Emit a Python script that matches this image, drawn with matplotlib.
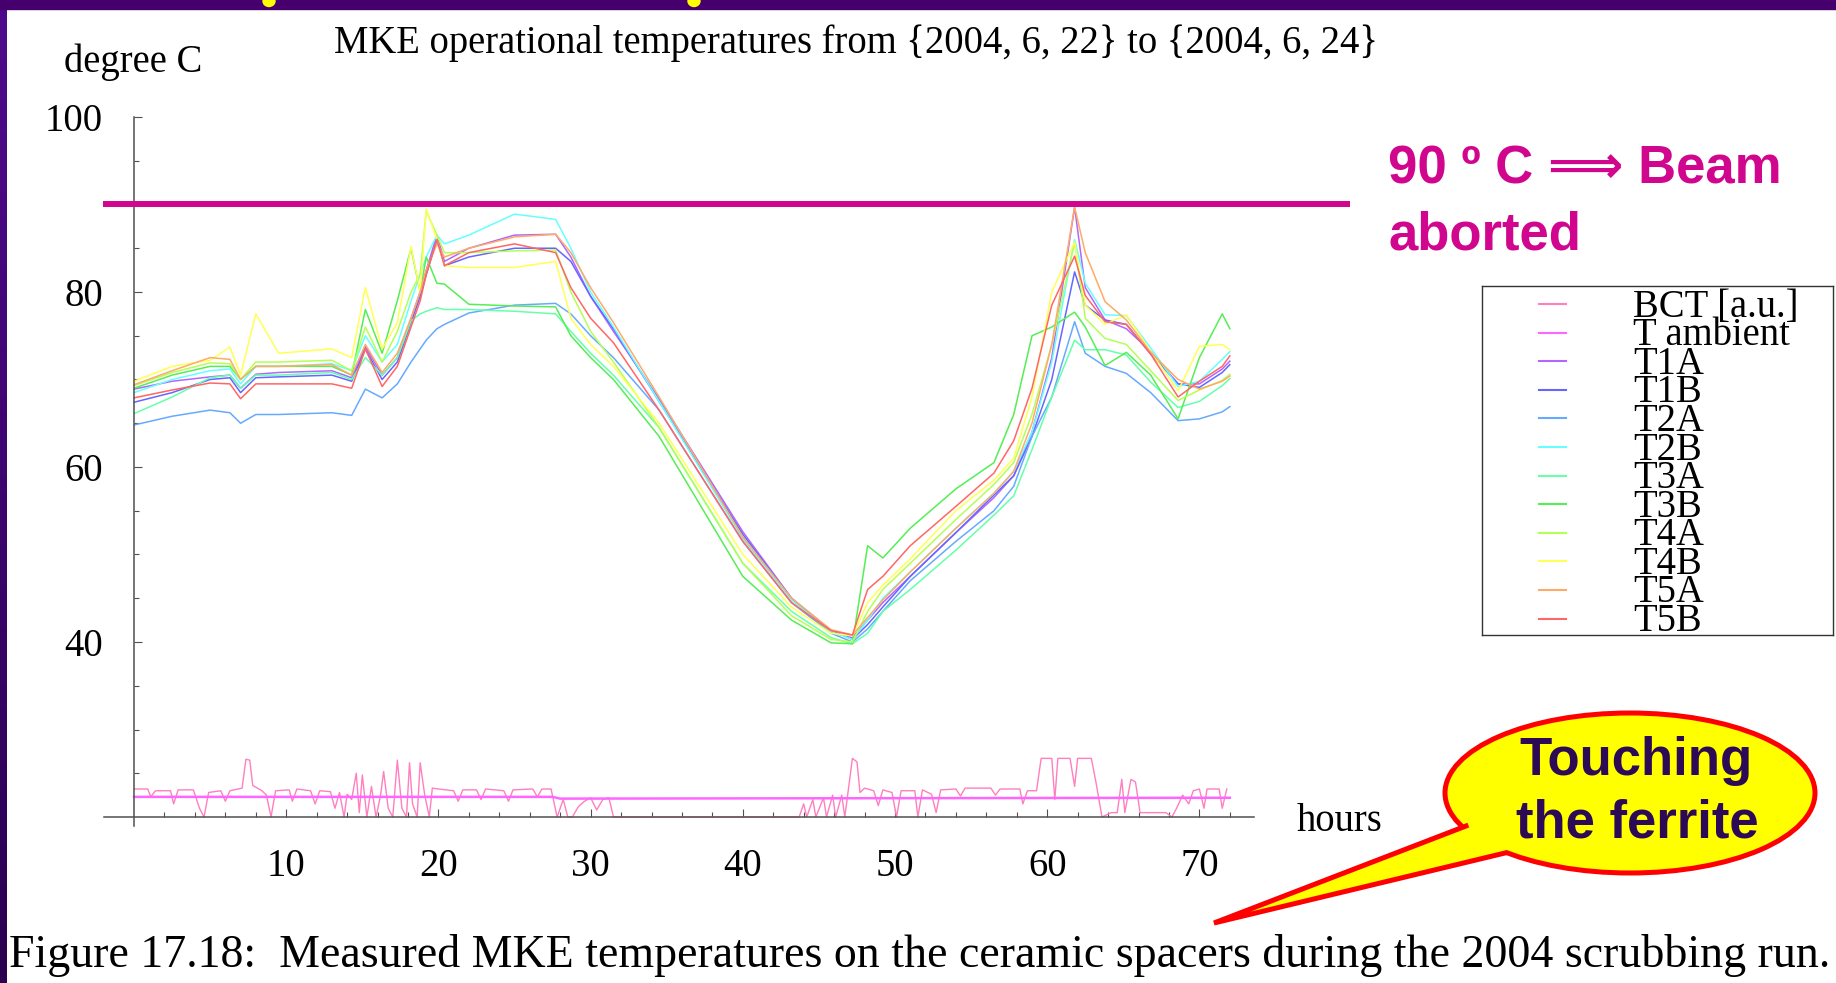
import numpy as np
import matplotlib
matplotlib.use("Agg")
import matplotlib.pyplot as plt
from matplotlib.patches import Ellipse, Polygon, Rectangle
from matplotlib.colors import LinearSegmentedColormap
from matplotlib.ticker import FixedLocator

plt.rcParams['font.family'] = ['Liberation Serif', 'DejaVu Serif']

# sample times (hours) shared by the temperature probes
hours = [0, 2.5, 5, 6.3, 7, 8, 9.5, 13, 14.3, 15.2,
         16.3, 17.3, 18.2, 18.8, 19.2, 19.9, 20.4, 22, 25, 27.7,
         28.7, 30, 31.5, 34.5, 40, 43.2, 45.8, 47.2, 48.2, 49.2,
         51, 54, 56.5, 57.8, 59, 60.3, 61.8, 62.5, 63.8, 65.2,
         66.8, 68.6, 70, 71.5, 72]

t1a = [68.9, 69.8, 70.3, 70.5, 69.0, 70.6, 70.8, 71.0, 70.2, 73.8,
       70.5, 72.5, 77.0, 80.0, 82.5, 86.5, 83.5, 85.0, 86.5, 86.6,
       84.0, 79.5, 75.5, 67.8, 52.6, 45.0, 41.1, 40.5, 42.5, 44.5,
       47.5, 52.5, 56.5, 59.0, 64.0, 72.5, 89.7, 80.5, 76.8, 75.8,
       73.2, 69.5, 69.5, 71.2, 72.1]
t1b = [67.4, 68.5, 70.0, 70.2, 68.5, 70.2, 70.3, 70.5, 69.8, 73.5,
       70.0, 72.0, 76.5, 79.5, 82.0, 86.0, 83.0, 84.0, 85.0, 85.0,
       83.5, 79.5, 75.8, 67.5, 52.3, 45.0, 41.3, 40.3, 42.0, 44.0,
       47.5, 52.5, 56.8, 59.0, 63.5, 70.0, 82.3, 78.5, 76.8, 76.3,
       72.9, 69.5, 69.1, 70.8, 71.7]
t2a = [64.8, 65.8, 66.5, 66.2, 65.0, 66.0, 66.0, 66.2, 65.9, 68.9,
       67.9, 69.5, 72.0, 73.5, 74.5, 75.8, 76.3, 77.6, 78.5, 78.7,
       77.5, 75.0, 72.5, 66.5, 51.5, 44.5, 41.0, 40.0, 41.5, 43.5,
       47.0, 51.5, 55.0, 57.8, 63.5, 68.0, 76.6, 73.0, 71.5, 70.7,
       68.5, 65.3, 65.5, 66.3, 66.9]
t2b = [68.5, 70.0, 71.0, 71.2, 69.5, 71.5, 71.5, 71.8, 71.0, 75.0,
       72.0, 74.0, 79.0, 82.0, 84.0, 86.5, 85.5, 86.5, 88.9, 88.3,
       85.0, 80.0, 76.0, 67.5, 51.8, 44.8, 41.2, 40.3, 42.5, 45.0,
       48.0, 53.0, 57.0, 59.5, 64.0, 72.0, 86.0, 81.0, 77.4, 77.3,
       73.6, 69.2, 69.8, 72.3, 73.2]
t3a = [66.1, 68.0, 70.2, 70.5, 69.0, 70.5, 70.5, 70.8, 70.0, 72.5,
       70.5, 72.5, 76.7, 77.5, 77.8, 78.2, 78.0, 78.0, 77.8, 77.5,
       75.5, 73.0, 70.5, 64.5, 49.0, 43.5, 40.5, 39.8, 41.0, 43.5,
       46.0, 50.5, 54.5, 56.7, 62.0, 68.0, 74.5, 73.4, 73.4, 72.8,
       69.7, 66.8, 67.5, 69.3, 70.1]
t3b = [69.0, 70.5, 71.5, 71.5, 70.0, 71.5, 71.5, 71.5, 70.5, 78.0,
       73.0, 79.0, 85.0, 80.0, 84.0, 81.0, 80.9, 78.6, 78.4, 78.3,
       75.0, 72.5, 70.0, 63.5, 47.5, 42.5, 39.9, 39.8, 51.0, 49.6,
       53.0, 57.5, 60.5, 66.0, 75.0, 76.0, 77.7, 76.0, 71.6, 73.1,
       70.5, 65.5, 72.5, 77.5, 75.8]
t4a = [69.3, 70.8, 71.9, 71.8, 70.0, 72.0, 72.0, 72.2, 71.0, 76.0,
       72.0, 75.5, 80.0, 82.0, 89.3, 86.5, 84.5, 84.5, 84.7, 84.8,
       80.0, 75.5, 72.0, 64.5, 49.0, 43.0, 40.3, 40.0, 43.5, 46.0,
       49.0, 54.0, 58.0, 60.5, 66.0, 74.0, 85.7, 77.0, 74.7, 74.0,
       71.0, 67.6, 68.8, 69.9, 70.6]
t4b = [69.8, 71.5, 72.2, 73.7, 70.5, 77.5, 73.0, 73.5, 72.5, 80.5,
       73.5, 76.5, 85.2, 80.0, 89.5, 86.0, 83.0, 82.8, 82.8, 83.5,
       77.0, 74.0, 71.5, 65.0, 50.0, 44.0, 41.0, 40.7, 44.5, 46.5,
       49.5, 55.0, 58.5, 61.0, 68.0, 80.0, 85.7, 78.5, 76.3, 77.4,
       73.2, 68.7, 73.8, 74.0, 73.4]
t5a = [69.4, 71.0, 72.5, 72.3, 70.0, 71.5, 71.5, 71.7, 70.5, 74.0,
       70.8, 73.0, 77.0, 80.0, 82.5, 85.5, 84.0, 85.0, 86.3, 86.6,
       84.5, 80.5, 76.5, 68.0, 52.0, 45.0, 41.4, 40.8, 42.8, 44.8,
       48.0, 53.0, 57.0, 59.5, 65.0, 74.0, 89.7, 84.5, 78.9, 76.8,
       73.1, 70.0, 68.9, 69.8, 70.4]
t5b = [67.9, 68.8, 69.6, 69.5, 67.8, 69.5, 69.5, 69.5, 69.0, 73.5,
       69.2, 71.5, 76.0, 79.0, 82.0, 86.0, 83.0, 84.5, 85.5, 84.5,
       80.5, 77.0, 74.2, 66.5, 51.5, 44.5, 41.3, 40.8, 46.0, 47.5,
       51.0, 55.5, 59.3, 63.0, 69.0, 78.5, 84.1, 79.6, 76.6, 76.3,
       72.9, 68.0, 69.8, 71.5, 72.7]

# beam current (arbitrary units, shown on the temperature scale)
bct_hours = [0, 0.9, 1.1, 1.4, 2.4, 2.6, 2.9, 3.9, 4.3, 4.6, 4.9, 5.7, 6.0, 6.3, 7.1, 7.35, 7.6, 7.8,
             8.4, 8.7, 9.0, 9.3, 10.2, 10.4, 10.7, 11.6, 11.9, 12.2, 12.9, 13.2, 13.5, 13.8, 14.0,
             14.3, 14.6, 14.8, 15.0, 15.3, 15.6, 15.9, 16.2, 16.4, 16.7, 17.0, 17.3, 17.6, 17.9, 18.1,
             18.3, 18.6, 18.8, 19.1, 19.4, 19.6,
             20.0, 21.0, 21.3, 21.6, 22.5, 22.8, 23.1, 24.3, 24.6, 24.9, 26.2, 26.5, 26.8, 27.4,
             27.8, 28.2, 28.5, 28.8, 29.2, 29.6, 30.0, 30.4, 30.8, 31.2, 31.5,
             43.7, 44.0, 44.2, 44.6, 44.8, 45.3, 45.5, 45.9, 46.1, 46.5, 46.7, 47.2, 47.5, 47.7,
             48.0, 48.6, 48.9, 49.2, 49.8, 50.1, 50.4, 51.3, 51.5, 51.8, 52.4, 52.7, 53.0, 54.0, 54.3,
             54.6, 56.3, 56.6, 56.9, 58.2, 58.4, 58.7, 59.3,
             59.6, 60.3, 60.5, 60.7, 61.5, 61.8, 62.0, 62.9, 63.2, 63.6,
             64.2, 64.6, 64.9, 65.1, 65.5, 65.8, 66.1, 67.8, 68.2, 68.5, 68.9, 69.3, 69.6, 70.0, 70.3,
             70.5, 71.3, 71.5, 71.8]
bct_vals = [23.2, 23.2, 22.3, 23.0, 23.0, 21.5, 23.1, 23.1, 21.0, 20.0, 22.8, 23.0, 21.8, 23.0, 23.3, 26.6, 26.5, 23.6,
            23.0, 22.5, 20.0, 23.0, 23.1, 21.8, 23.2, 23.0, 21.5, 23.0, 22.9, 21.0, 22.8, 20.0, 22.6,
            22.0, 25.0, 20.5, 24.8, 20.0, 23.5, 20.0, 22.5, 25.2, 21.0, 20.0, 26.5, 21.0, 20.0, 26.2,
            21.5, 20.0, 26.2, 22.5, 20.0, 23.3,
            23.2, 23.0, 21.8, 23.1, 23.1, 22.0, 23.2, 23.0, 21.8, 23.1, 23.2, 22.3, 23.2, 23.2,
            20.0, 22.0, 20.0, 20.0, 21.2, 21.8, 22.2, 20.8, 22.0, 22.2, 20.0,
            20.0, 21.5, 20.0, 22.0, 20.0, 22.2, 20.0, 22.5, 20.0, 22.5, 20.0, 26.7, 26.3, 22.8,
            23.3, 23.0, 21.3, 23.1, 22.8, 20.0, 23.0, 23.0, 20.0, 23.1, 22.6, 20.5, 23.1, 23.2, 22.4,
            23.3, 23.3, 22.5, 23.2, 23.2, 21.5, 23.0, 23.0,
            26.7, 26.7, 22.0, 26.7, 26.7, 23.5, 26.7, 26.7, 24.0, 20.0,
            20.5, 20.5, 24.3, 20.5, 24.3, 24.0, 20.5, 20.5, 20.0, 21.0, 22.5, 21.5, 23.0, 23.2, 21.0,
            23.2, 23.2, 21.0, 23.2]

amb_hours = [0, 27.5, 28.0, 72]
amb_vals = [22.3, 22.3, 22.1, 22.2]

abort_limit = 90

names = ["BCT [a.u.]", "T ambient", "T1A", "T1B", "T2A", "T2B",
         "T3A", "T3B", "T4A", "T4B", "T5A", "T5B"]
colors = ["#FF7FBF", "#FF66FF", "#B066FF", "#6666FF", "#66AAFF", "#66FFFF",
          "#66FFAA", "#55EE55", "#B5FF55", "#FFFF55", "#FFAA66", "#FF6666"]
temps = [t1a, t1b, t2a, t2b, t3a, t3b, t4a, t4b, t5a, t5b]

x_major = [10, 20, 30, 40, 50, 60, 70]
x_minor = [h for h in range(2, 73, 2) if h % 10]
y_major = [40, 60, 80, 100]
y_minor = [v for v in range(25, 100, 5) if v % 20]

W, H = 1836, 983
fig = plt.figure(figsize=(W / 100, H / 100), dpi=100)
fig.patch.set_facecolor('white')


def px(x0, y0, x1, y1):
    # pixel box -> figure fraction
    return [x0 / W, 1 - y1 / H, (x1 - x0) / W, (y1 - y0) / H]


ax = fig.add_axes(px(103.6, 117, 1254.2, 825.75))
ax.set_xlim(-2, 73.6)
ax.set_ylim(19, 100)
ax.set_facecolor('none')

ax.plot(bct_hours, bct_vals, color=colors[0], lw=1.0)
ax.plot(amb_hours, amb_vals, color=colors[1], lw=1.8)
for vals, col in zip(temps, colors[2:]):
    ax.plot(hours, vals, color=col, lw=1.1)

# abort threshold
ax.plot([-2.05, 79.9], [abort_limit, abort_limit], color='#D1068E', lw=4.3,
        clip_on=False, solid_capstyle='butt', zorder=5)

for s in ['top', 'right']:
    ax.spines[s].set_visible(False)
ax.spines['left'].set_position(('data', 0))
ax.spines['bottom'].set_position(('data', 20))
for s in ['left', 'bottom']:
    ax.spines[s].set_color('#505050')
    ax.spines[s].set_linewidth(1.1)

ax.xaxis.set_major_locator(FixedLocator(x_major))
ax.xaxis.set_minor_locator(FixedLocator(x_minor))
ax.yaxis.set_major_locator(FixedLocator(y_major))
ax.yaxis.set_minor_locator(FixedLocator(y_minor))
ax.tick_params(which='both', direction='in', color='#505050', width=0.8)
ax.tick_params(which='major', length=6, labelsize=27.8, pad=22.5)
ax.tick_params(which='minor', length=3.5)

fig.text(64 / W, 1 - 72 / H, 'degree C', fontsize=27.8, va='baseline')
fig.text(334 / W, 1 - 53 / H, 'MKE operational temperatures from {2004, 6, 22} to {2004, 6, 24}',
         fontsize=27.8, va='baseline')
fig.text(1297 / W, 1 - 831 / H, 'hours', fontsize=27.8, va='baseline')
fig.text(9 / W, 1 - 967 / H,
         'Figure 17.18:  Measured MKE temperatures on the ceramic spacers during the 2004 scrubbing run.',
         fontsize=33, va='baseline')

# legend box
lg = fig.add_axes(px(1482, 286, 1833, 635))
lg.set_xlim(0, 351)
lg.set_ylim(349, 0)
lg.set_xticks([])
lg.set_yticks([])
for sp in lg.spines.values():
    sp.set_color('#333333')
    sp.set_linewidth(1.0)
for i, (name, col) in enumerate(zip(names, colors)):
    yy = 21 + i * 28.6
    lg.plot([57, 84], [yy - 3, yy - 3], color=col, lw=1.5)
    lg.text(151, yy, name, fontsize=27.8, va='center', ha='left')

# overlay in pixel coordinates for slide decorations
ov = fig.add_axes([0, 0, 1, 1])
grad = np.linspace(0, 1, 256).reshape(-1, 1)
ov.imshow(grad, extent=(0, 6.5, H, 0), aspect='auto',
          cmap=LinearSegmentedColormap.from_list('strip', ['#4E0A8C', '#2A0050']), zorder=0)
ov.add_patch(Rectangle((0, 0), W, 8.5, color='#46006E', zorder=1))
ov.add_patch(Ellipse((269, 1), 12, 11, color='#FFFF00', zorder=2))
ov.add_patch(Ellipse((694, 1), 12, 11, color='#FFFF00', zorder=2))

ov.text(1388, 184, '90 º C \u27f9 Beam', fontsize=38, fontweight='bold', color='#D1068E',
        family=['Liberation Sans', 'DejaVu Sans'], va='baseline')
ov.text(1388, 250, 'aborted', fontsize=38, fontweight='bold', color='#D1068E',
        family=['Liberation Sans', 'DejaVu Sans'], va='baseline')

# speech bubble
ov.add_patch(Ellipse((1630, 793), 370, 160, fc='#FFFF00', ec='#FF0000', lw=3.6, zorder=3))
ov.add_patch(Polygon([(1214, 923), (1465, 827), (1490, 812), (1525, 838), (1504, 852)],
                     closed=True, fc='#FFFF00', ec='none', zorder=4))
ov.plot([1466, 1214, 1505], [826, 923, 853], color='#FF0000', lw=3.6, zorder=5,
        solid_joinstyle='miter')
ov.text(1636, 775, 'Touching', ha='center', va='baseline', fontsize=38, fontweight='bold',
        color='#2D0A56', family='Liberation Sans', zorder=6)
ov.text(1637, 838, 'the ferrite', ha='center', va='baseline', fontsize=38, fontweight='bold',
        color='#2D0A56', family='Liberation Sans', zorder=6)
ov.set_xlim(0, W)
ov.set_ylim(H, 0)
ov.axis('off')

fig.savefig('out.png', dpi=100)
